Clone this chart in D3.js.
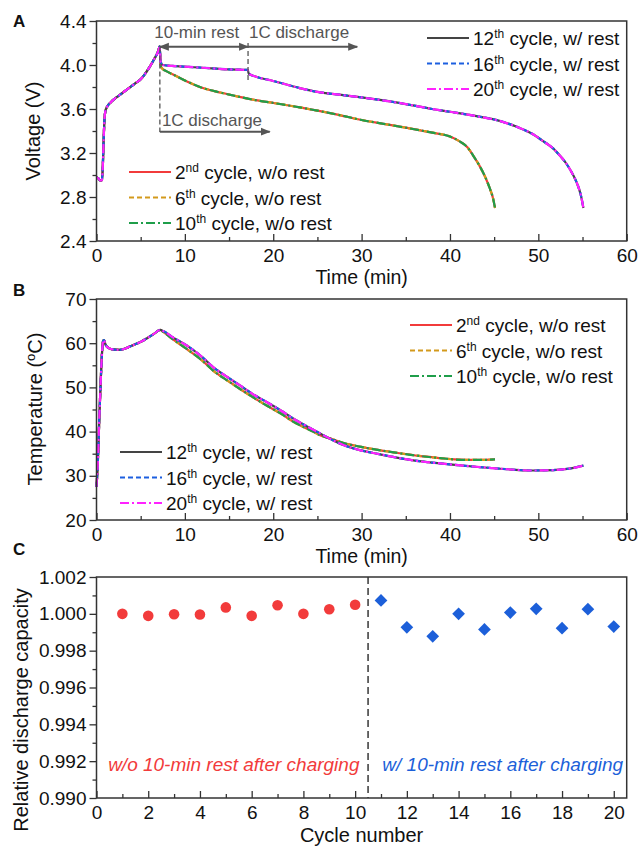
<!DOCTYPE html>
<html>
<head>
<meta charset="utf-8">
<script src="https://cdn.jsdelivr.net/npm/d3@7"></script>
<style>
  body { margin: 0; background: #fff; }
  text { font-family: "Liberation Sans", Arial, sans-serif; fill: #111; }
</style>
</head>
<body>
<svg width="638" height="847"></svg>
<script>
// ---- data ----
const timeTicks  = [0, 10, 20, 30, 40, 50, 60];
const timeMinor  = [5, 15, 25, 35, 45, 55];
const voltTicks  = [2.4, 2.8, 3.2, 3.6, 4.0, 4.4];
const voltMinor  = [2.6, 3.0, 3.4, 3.8, 4.2];
const tempTicks  = [20, 30, 40, 50, 60, 70];
const tempMinor  = [25, 35, 45, 55, 65];
const capTicks   = [0.990, 0.992, 0.994, 0.996, 0.998, 1.000, 1.002];
const capMinor   = [0.991, 0.993, 0.995, 0.997, 0.999, 1.001];
const cycleTicks = [0, 2, 4, 6, 8, 10, 12, 14, 16, 18, 20];
const cycleMinor = [1, 3, 5, 7, 9, 11, 13, 15, 17, 19];

// [time (min), voltage (V)] during charging (same for all cycles)
const chargeVolt = [[0, 2.98], [0.2, 2.97], [0.4, 2.95], [0.6, 2.95], [0.7, 3.05], [0.8, 3.3],
  [0.9, 3.5], [1.0, 3.58], [1.2, 3.62], [1.6, 3.66], [2.0, 3.69], [2.5, 3.72], [3.0, 3.75],
  [3.5, 3.78], [4.0, 3.81], [4.5, 3.84], [5.0, 3.87], [5.5, 3.92], [6.0, 3.98], [6.5, 4.05],
  [7.0, 4.13], [7.15, 4.17]];
// cycles 2, 6, 10: discharge right after charging
const voltNoRest = [[7.25, 4.0], [7.4, 3.97], [8, 3.94], [9, 3.90], [10, 3.86], [11.7, 3.80],
  [14, 3.75], [16.2, 3.71], [18, 3.68], [20, 3.655], [23, 3.615], [25, 3.585], [27.5, 3.545],
  [30, 3.50], [32.5, 3.465], [35, 3.43], [38, 3.385], [40, 3.35], [41, 3.31], [42, 3.25],
  [42.6, 3.18], [43.3, 3.09], [44, 2.98], [44.5, 2.88], [44.9, 2.78], [45.1, 2.70]];
// cycles 12, 16, 20: 10-min rest, then discharge
const voltRest = [[7.25, 4.03], [7.5, 4.0], [9, 3.99], [12, 3.975], [15, 3.96], [17.1, 3.955],
  [17.25, 3.92], [18, 3.895], [20, 3.855], [23, 3.79], [25, 3.755], [27.5, 3.73], [30, 3.705],
  [35, 3.645], [38, 3.60], [40, 3.575], [43, 3.535], [45.7, 3.49], [47.5, 3.44], [49.4, 3.37],
  [50.5, 3.31], [51.7, 3.24], [52.4, 3.18], [53.2, 3.10], [54, 2.99], [54.4, 2.92],
  [54.8, 2.82], [55.1, 2.70]];

// [time (min), temperature (C)]
const chargeTemp = [[0, 27.5], [0.15, 33], [0.3, 42], [0.45, 50], [0.6, 57], [0.75, 60.5],
  [0.85, 60.7], [1.0, 59.8], [1.3, 59.0], [1.8, 58.6], [2.6, 58.5], [3.5, 59.0], [4.2, 59.6],
  [5.0, 60.3], [5.7, 61.1], [6.5, 62.1], [7.2, 63.0]];
const tempNoRest = [[7.6, 62.5], [8.5, 61.1], [10.2, 58.7], [12, 56.0], [13.2, 53.8], [15, 51.3],
  [16.2, 49.7], [18, 47.4], [19.25, 45.9], [21, 43.9], [22.3, 42.2], [24, 40.5], [25.3, 39.2],
  [26.8, 38.2], [28, 37.4], [29.8, 36.6], [32, 35.8], [34.3, 35.1], [36.5, 34.5], [38.9, 34.0],
  [40.5, 33.7], [41.9, 33.6], [43.5, 33.6], [45.1, 33.7]];
const tempRest = [[7.6, 62.7], [8.5, 61.5], [10.2, 59.5], [12, 56.8], [13.2, 54.6], [15, 52.1],
  [16.2, 50.5], [18, 48.1], [19.25, 46.7], [21, 44.6], [22.3, 42.9], [24, 41.0], [25.3, 39.6],
  [26.8, 38.0], [28, 36.9], [29.8, 35.8], [32, 34.9], [34.3, 34.0], [36.5, 33.3], [38.9, 32.8],
  [41, 32.4], [42.6, 32.1], [45.7, 31.6], [49.4, 31.2], [51.7, 31.3], [53, 31.5], [54, 31.8],
  [55.1, 32.3]];

const cycles   = [1, 2, 3, 4, 5, 6, 7, 8, 9, 10, 11, 12, 13, 14, 15, 16, 17, 18, 19, 20];
const capacity = [1.0000, 0.99989, 0.99998, 0.99996, 1.00035, 0.99989, 1.00047, 1.0000, 1.00025,
  1.00049, 1.00073, 0.99927, 0.99878, 1.0000, 0.99915, 1.00007, 1.00027, 0.99922, 1.00025, 0.99931];

const noRestSeries = [
  { num: '2',  sup: 'nd', color: '#f23b3b', dash: null },
  { num: '6',  sup: 'th', color: '#d39a1c', dash: '5,3' },
  { num: '10', sup: 'th', color: '#1f9e4a', dash: '9,3,2,3' }
];
const restSeries = [
  { num: '12', sup: 'th', color: '#444444', dash: null },
  { num: '16', sup: 'th', color: '#1c5fe0', dash: '5,3' },
  { num: '20', sup: 'th', color: '#ff22ff', dash: '9,3,2,3' }
];

// ---- drawing ----
const svg = d3.select('svg');
const left = 96.5, right = 626.7;
const axisColor = '#333';

const defs = svg.append('defs');
defs.append('marker').attr('id', 'head')
  .attr('viewBox', '0 0 10 10').attr('refX', 9).attr('refY', 5)
  .attr('markerWidth', 5).attr('markerHeight', 5).attr('orient', 'auto-start-reverse')
  .append('path').attr('d', 'M0,1 L10,5 L0,9 Z').attr('fill', '#555');

const panel = (top, bottom, xDom, yDom, xT, xM, yT, yM, fmtY) => {
  const x = d3.scaleLinear().domain(xDom).range([left, right]);
  const y = d3.scaleLinear().domain(yDom).range([bottom, top]);
  const g = svg.append('g');

  const xAxis = d3.axisBottom(x).tickValues(xT).tickSize(-7).tickPadding(8).tickFormat(d3.format('d'));
  g.append('g').attr('transform', `translate(0,${bottom})`).call(xAxis);
  const xMinor = d3.axisBottom(x).tickValues(xM).tickSize(-4).tickFormat('');
  g.append('g').attr('transform', `translate(0,${bottom})`).call(xMinor);

  const yAxis = d3.axisLeft(y).tickValues(yT).tickSize(7).tickPadding(3).tickFormat(fmtY);
  g.append('g').attr('transform', `translate(${left},0)`).call(yAxis);
  const yMinor = d3.axisLeft(y).tickValues(yM).tickSize(4).tickFormat('');
  g.append('g').attr('transform', `translate(${left},0)`).call(yMinor);

  g.selectAll('.domain').remove();
  g.selectAll('.tick line').attr('stroke', axisColor).attr('stroke-width', 1.3);
  g.selectAll('.tick text').style('font-size', '19px').attr('fill', '#111')
    .style('font-family', '"Liberation Sans", Arial, sans-serif');

  svg.append('rect').attr('x', left).attr('y', top)
    .attr('width', right - left).attr('height', bottom - top)
    .attr('fill', 'none').attr('stroke', axisColor).attr('stroke-width', 1.5);
  return { x, y, g };
};

const drawLines = (p, groups) => {
  const line = d3.line().curve(d3.curveMonotoneX).x(d => p.x(d[0])).y(d => p.y(d[1]));
  groups.forEach(([series, data]) => {
    series.forEach(s => {
      p.g.append('path').datum(data)
        .attr('d', line).attr('fill', 'none')
        .attr('stroke', s.color).attr('stroke-width', 2.2)
        .attr('stroke-dasharray', s.dash);
    });
  });
};

const legend = (series, lx, ly, text) => {
  series.forEach((s, i) => {
    const yy = ly + i * 25.5;
    svg.append('line').attr('x1', lx).attr('x2', lx + 42).attr('y1', yy).attr('y2', yy)
      .attr('stroke', s.color).attr('stroke-width', 2.2).attr('stroke-dasharray', s.dash);
    const t = svg.append('text').attr('x', lx + 46).attr('y', yy + 7).style('font-size', '19px');
    t.append('tspan').text(s.num);
    t.append('tspan').attr('dy', -7).style('font-size', '12px').text(s.sup);
    t.append('tspan').attr('dy', 7).text(' ' + text);
  });
};

const panelLetter = (ch, yy) => svg.append('text').attr('x', 13).attr('y', yy)
  .style('font-size', '17px').style('font-weight', 'bold').text(ch);

const yTitle = (cx, cy) => svg.append('text')
  .attr('transform', `translate(${cx},${cy}) rotate(-90)`)
  .attr('text-anchor', 'middle').style('font-size', '20px');

// Panel A: voltage
const pA = panel(21, 241, [0, 60], [2.4, 4.4], timeTicks, timeMinor, voltTicks, voltMinor, d3.format('.1f'));
drawLines(pA, [
  [noRestSeries, chargeVolt.concat(voltNoRest)],
  [restSeries, chargeVolt.concat(voltRest)]
]);
panelLetter('A', 27);
yTitle(40, 131).text('Voltage (V)');
svg.append('text').attr('x', (left + right) / 2).attr('y', 284).attr('text-anchor', 'middle')
  .style('font-size', '19.5px').text('Time (min)');

// annotations in panel A
const ann = pA.g.append('g').attr('stroke', '#555').attr('stroke-width', 1.3);
ann.append('line').attr('x1', pA.x(7.17)).attr('x2', pA.x(7.17))
  .attr('y1', pA.y(4.16)).attr('y2', pA.y(3.39)).attr('stroke-dasharray', '5,3');
ann.append('line').attr('x1', pA.x(17.15)).attr('x2', pA.x(17.15))
  .attr('y1', pA.y(4.2)).attr('y2', pA.y(3.86)).attr('stroke-dasharray', '5,3');
ann.append('line').attr('x1', pA.x(7.17)).attr('x2', pA.x(17.15))
  .attr('y1', pA.y(4.165)).attr('y2', pA.y(4.165)).attr('stroke-width', 2)
  .attr('marker-start', 'url(#head)').attr('marker-end', 'url(#head)');
ann.append('line').attr('x1', pA.x(17.15)).attr('x2', pA.x(29.5))
  .attr('y1', pA.y(4.165)).attr('y2', pA.y(4.165)).attr('stroke-width', 2)
  .attr('marker-end', 'url(#head)');
ann.append('line').attr('x1', pA.x(7.17)).attr('x2', pA.x(19.6))
  .attr('y1', pA.y(3.394)).attr('y2', pA.y(3.394)).attr('stroke-width', 2)
  .attr('marker-end', 'url(#head)');
const annText = (tx, ty, s, anchor) => svg.append('text').attr('x', pA.x(tx)).attr('y', pA.y(ty))
  .attr('text-anchor', anchor).style('font-size', '17px').style('fill', '#555').text(s);
annText(11.35, 4.25, '10-min rest', 'middle');
annText(17.25, 4.25, '1C discharge', 'start');
annText(7.4, 3.445, '1C discharge', 'start');

legend(restSeries, 427, 38, 'cycle, w/ rest');
legend(noRestSeries, 129, 172, 'cycle, w/o rest');

// Panel B: temperature
const pB = panel(299, 520, [0, 60], [20, 70], timeTicks, timeMinor, tempTicks, tempMinor, d3.format('d'));
drawLines(pB, [
  [noRestSeries, chargeTemp.concat(tempNoRest)],
  [restSeries, chargeTemp.concat(tempRest)]
]);
panelLetter('B', 296);
const tT = yTitle(42, 409);
tT.append('tspan').text('Temperature (');
tT.append('tspan').attr('dy', -7).style('font-size', '13px').text('o');
tT.append('tspan').attr('dy', 7).text('C)');
svg.append('text').attr('x', (left + right) / 2).attr('y', 563).attr('text-anchor', 'middle')
  .style('font-size', '19.5px').text('Time (min)');
legend(noRestSeries, 410, 325, 'cycle, w/o rest');
legend(restSeries, 120, 452, 'cycle, w/ rest');

// Panel C: relative capacity
const pC = panel(577, 798, [0, 20.5], [0.990, 1.002], cycleTicks, cycleMinor, capTicks, capMinor, d3.format('.3f'));
panelLetter('C', 555);
yTitle(28, 710).text('Relative discharge capacity');
svg.append('text').attr('x', (left + right) / 2).attr('y', 842).attr('text-anchor', 'middle')
  .style('font-size', '20px').text('Cycle number');

pC.g.append('line').attr('x1', pC.x(10.5)).attr('x2', pC.x(10.5))
  .attr('y1', pC.y(1.002)).attr('y2', pC.y(0.990))
  .attr('stroke', '#444').attr('stroke-width', 1.6).attr('stroke-dasharray', '7,4');

const capData = cycles.map((c, i) => ({ c, v: capacity[i] }));
pC.g.selectAll('circle').data(capData.filter(d => d.c <= 10)).enter()
  .append('circle')
    .attr('cx', d => pC.x(d.c)).attr('cy', d => pC.y(d.v))
    .attr('r', 5.3).attr('fill', '#f23b3b');
pC.g.selectAll('.dia').data(capData.filter(d => d.c > 10)).enter()
  .append('path').attr('class', 'dia')
    .attr('d', d3.symbol(d3.symbolSquare, 81))
    .attr('transform', d => `translate(${pC.x(d.c)},${pC.y(d.v)}) rotate(45)`)
    .attr('fill', '#1c5fd9');

svg.append('text').attr('x', pC.x(0.45)).attr('y', pC.y(0.99145))
  .style('font-size', '19px').style('font-style', 'italic').style('fill', '#f23b3b')
  .text('w/o 10-min rest after charging');
svg.append('text').attr('x', pC.x(11.05)).attr('y', pC.y(0.99145))
  .style('font-size', '19px').style('font-style', 'italic').style('fill', '#1c5fd9')
  .text('w/ 10-min rest after charging');
</script>
</body>
</html>
